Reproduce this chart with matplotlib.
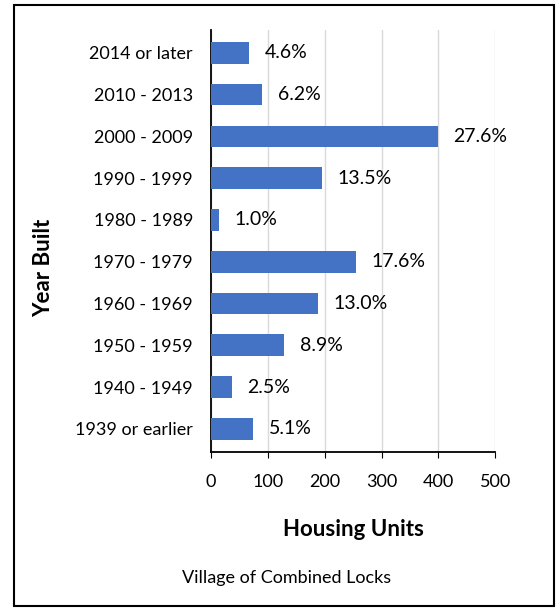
import matplotlib.pyplot as plt
from matplotlib.patches import Rectangle

plt.rcParams['font.family'] = ['Lato', 'DejaVu Sans']

years = ['2014 or later', '2010 - 2013', '2000 - 2009', '1990 - 1999', '1980 - 1989',
         '1970 - 1979', '1960 - 1969', '1950 - 1959', '1940 - 1949', '1939 or earlier']
units = [67, 90, 400, 196, 14, 255, 188, 129, 36, 74]
pct_labels = ['4.6%', '6.2%', '27.6%', '13.5%', '1.0%', '17.6%', '13.0%', '8.9%', '2.5%', '5.1%']
xticks = [0, 100, 200, 300, 400, 500]

fig = plt.figure(figsize=(5.57, 6.09), dpi=100)
ax = fig.add_axes([0.379, 0.258, 0.51, 0.693])

ypos = list(range(len(years)))[::-1]
ax.barh(ypos, units, height=0.52, color='#4472C4', zorder=3)
for y, v, lab in zip(ypos, units, pct_labels):
    ax.annotate(lab, (v, y), xytext=(11, 0), textcoords='offset points',
                va='center', ha='left', fontsize=14, color='black')

ax.set_xlim(0, 500)
ax.set_ylim(-0.55, 9.55)
ax.set_xticks(xticks)
ax.set_yticks(ypos)
ax.set_yticklabels(years, fontsize=13)
ax.tick_params(axis='x', labelsize=13, length=4, pad=12, direction='out')
ax.tick_params(axis='y', length=0, pad=13)
ax.grid(axis='x', color='#D9D9D9', linewidth=1, zorder=0)
for s in ['top', 'right']:
    ax.spines[s].set_visible(False)
ax.spines['left'].set_linewidth(1.3)
ax.spines['bottom'].set_linewidth(1.3)

ax.set_xlabel('Housing Units', fontsize=16, fontweight='bold', labelpad=21)
fig.text(0.078, 0.56, 'Year Built', rotation=90, fontsize=16, fontweight='bold',
         ha='center', va='center')
fig.text(0.515, 0.051, 'Village of Combined Locks', fontsize=13, ha='center', va='center')

fig.patches.append(Rectangle((0.025, 0.005), 0.97, 0.986, transform=fig.transFigure,
                             fill=False, edgecolor='black', linewidth=1.5))

fig.savefig('out.png', dpi=100)
